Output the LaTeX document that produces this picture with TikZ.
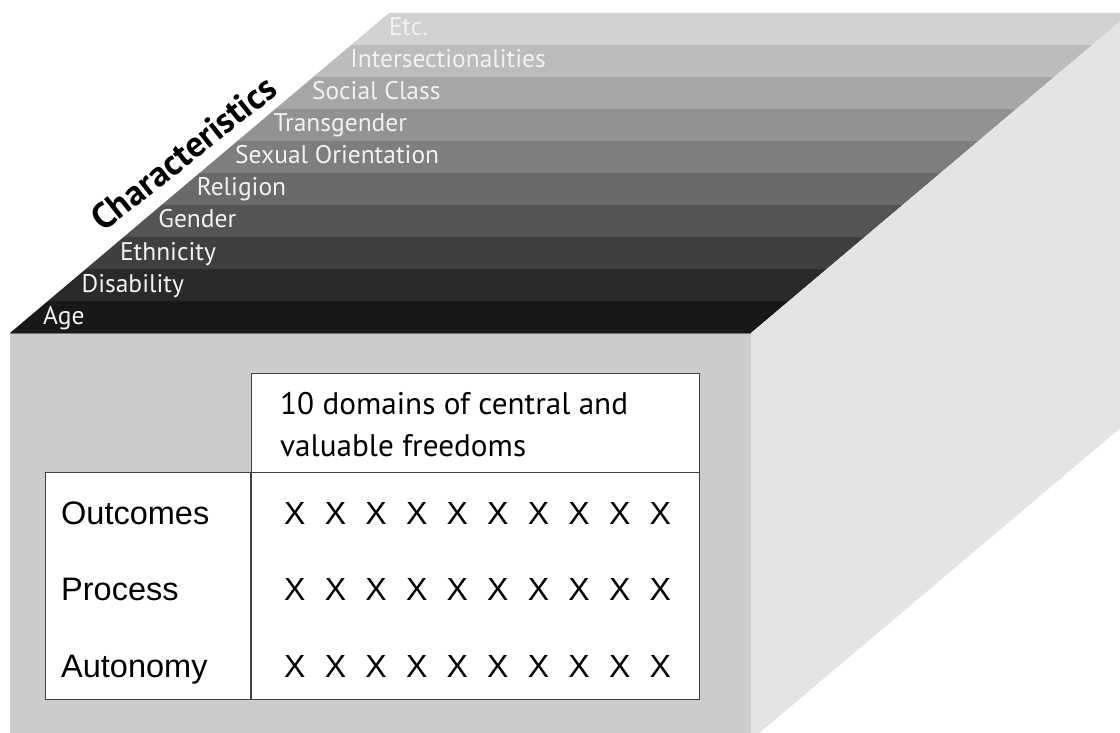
\documentclass[tikz,border=0pt]{standalone}
\usepackage{fontspec}
\setmainfont{PT Sans}
\newfontfamily\arialf{Liberation Sans}
\definecolor{frontc}{RGB}{204,204,204}
\definecolor{sidec}{RGB}{227,228,227}
\definecolor{labelc}{RGB}{242,242,242}
\begin{document}
\begin{tikzpicture}[x=1pt,y=-1pt,
  bandlabel/.style={anchor=base west, inner sep=0pt, text=labelc, font=\fontsize{25.5}{25.5}\selectfont},
  charlabel/.style={anchor=base west, inner sep=0pt, rotate=38.5, font=\bfseries\fontsize{36}{36}\selectfont},
  hdrtext/.style={anchor=base west, inner sep=0pt, font=\fontsize{31.2}{31.2}\selectfont},
  rowlabel/.style={anchor=base west, inner sep=0pt, font=\arialf\fontsize{32.5}{32.5}\selectfont},
  xmark/.style={anchor=base west, inner sep=0pt, font=\arialf\fontsize{32}{32}\selectfont},
  tline/.style={draw=black!75, line width=1.1pt}
]
\useasboundingbox (0,0) rectangle (1120,733);
\clip (0,0) rectangle (1120,733);
% top face bands
\foreach \i/\g in {0/24,1/42,2/63,3/84,4/106,5/126,6/146,7/166,8/188,9/209}{
  \pgfmathsetmacro\yb{333-32*\i}
  \pgfmathsetmacro\yt{333-32*(\i+1)}
  \pgfmathsetmacro\xa{10+37.9*\i}
  \pgfmathsetmacro\xb{10+37.9*(\i+1)}
  \definecolor{bandc}{RGB}{\g,\g,\g}
  \fill[bandc] (\xa,\yb) -- (\xa+741,\yb) -- (\xb+741,\yt) -- (\xb,\yt) -- cycle;
}
% front and side faces
\fill[frontc] (10,333) rectangle (751,745);
\fill[sidec] (751,333) -- (1130,13) -- (1130,420) -- (751,740) -- cycle;
\draw[black!55, line width=1pt] (10,333) -- (751,333);
% band labels
\foreach \i/\t/\n in {0/Age/age,1/Disability/dis,2/Ethnicity/eth,3/Gender/gen,4/Religion/rel,5/Sexual Orientation/sex,6/Transgender/tra,7/Social Class/soc,8/Intersectionalities/int,9/Etc./etc}{
  \node[bandlabel] (\n) at ({43+38.4*\i},{324-32*\i}) {\t};
}
\node[charlabel] (chars) at (103,233) {Characteristics};
% table
\node[tline, fill=white, minimum width=448pt, minimum height=99pt, anchor=north west, inner sep=0pt] (hdrcell) at (251,373) {};
\node[tline, fill=white, minimum width=654pt, minimum height=227pt, anchor=north west, inner sep=0pt] (body) at (45,472) {};
\draw[tline] (hdrcell.south west) -- (hdrcell.south west |- body.south);
\node[hdrtext] (h1) at (280,414) {10 domains of central and};
\node[hdrtext] (h2) at (280,456) {valuable freedoms};
\node[rowlabel] (outc) at (61,524) {Outcomes};
\node[rowlabel] (proc) at (61,600) {Process};
\node[rowlabel] (auto) at (61,677) {Autonomy};
\foreach \r/\yy in {o/524,p/600,a/677}{
  \foreach \k in {0,...,9}{
    \node[xmark] (x\r\k) at ({284+40.6*\k},\yy) {X};
  }
}
\end{tikzpicture}
\end{document}
